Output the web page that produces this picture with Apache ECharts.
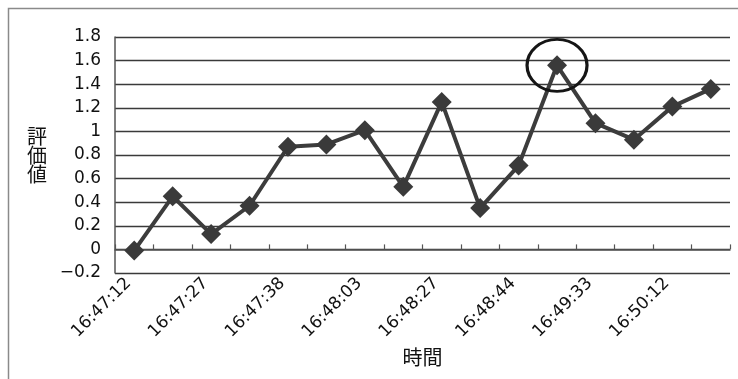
<!DOCTYPE html>
<html>
<head>
<meta charset="utf-8">
<script src="https://cdn.jsdelivr.net/npm/echarts@6/dist/echarts.min.js"></script>
<style>
  html, body { margin: 0; padding: 0; background: #fff; }
  #chart { width: 738px; height: 379px; }
</style>
</head>
<body>
<div id="chart"></div>
<script>
// Sample times along the x axis; only every other time is labelled.
const categories = [
  '16:47:12', '', '16:47:27', '', '16:47:38', '', '16:48:03', '',
  '16:48:27', '', '16:48:44', '', '16:49:33', '', '16:50:12', ''
];

// Evaluation value at each sample.
const values = [
  -0.01, 0.45, 0.13, 0.37, 0.87, 0.89, 1.01, 0.53,
  1.25, 0.35, 0.71, 1.56, 1.07, 0.93, 1.21, 1.36
];

// Y axis range and step.
const yMin = -0.2;
const yMax = 1.8;
const yStep = 0.2;

const yTitle = '評価値';
const xTitle = '時間';

const font = 'DejaVu Sans';
const cjkFont = 'Noto Sans CJK JP';

const chart = echarts.init(document.getElementById('chart'), null, { renderer: 'canvas' });

function fmtY(v) {
  const s = String(Number(v.toFixed(1)));
  return s.replace('-', '\u2212');
}

chart.setOption({
  animation: false,
  backgroundColor: '#ffffff',
  graphic: [{
    type: 'rect',
    left: 6, top: 6,
    shape: { width: 800, height: 420 },
    style: { fill: 'none', stroke: '#8a8a8a', lineWidth: 1.5 },
    silent: true
  }],
  grid: { left: 115, right: 8, top: 37, bottom: 106, containLabel: false },
  xAxis: [
    {
      // axis line through zero with inward ticks at category boundaries
      type: 'category',
      data: categories,
      position: 'bottom',
      boundaryGap: true,
      axisLine: { show: true, onZero: true, lineStyle: { color: '#555', width: 1.5 } },
      axisTick: { show: true, inside: true, length: 5, interval: 0, lineStyle: { color: '#555', width: 1.2 } },
      axisLabel: { show: false },
      splitLine: { show: false }
    },
    {
      // time labels along the bottom of the plot
      type: 'category',
      data: categories,
      position: 'bottom',
      boundaryGap: true,
      axisLine: { show: false, onZero: false },
      axisTick: { show: false },
      axisLabel: {
        show: true, interval: 0, rotate: 45, margin: 2,
        padding: [0, 8, 0, 0],
        fontFamily: font, fontSize: 17, color: '#111'
      },
      splitLine: { show: false },
      name: xTitle,
      nameLocation: 'middle',
      nameGap: 66,
      nameTextStyle: { fontFamily: cjkFont, fontSize: 20, color: '#111' }
    }
  ],
  yAxis: {
    type: 'value',
    min: yMin, max: yMax, interval: yStep,
    axisLine: { show: true, lineStyle: { color: '#555', width: 1.5 } },
    axisTick: { show: false },
    axisLabel: {
      margin: 14, fontFamily: font, fontSize: 17, color: '#111',
      formatter: fmtY
    },
    splitLine: { show: true, lineStyle: { color: '#3a3a3a', width: 1.4 } },
    name: yTitle.split('').join('\n'),
    nameLocation: 'middle',
    nameRotate: 0,
    nameGap: 68,
    nameTextStyle: {
      fontFamily: cjkFont, fontSize: 20, color: '#111',
      lineHeight: 19, padding: [10, 0, 0, 0]
    }
  },
  series: [{
    type: 'line',
    xAxisIndex: 0,
    data: values,
    symbol: 'diamond',
    symbolSize: 20,
    showAllSymbol: true,
    lineStyle: { color: '#3c3c3c', width: 4 },
    itemStyle: { color: '#3a3a3a' },
    markPoint: {
      symbol: 'circle',
      symbolSize: [60, 52],
      label: { show: false },
      itemStyle: { color: 'rgba(0,0,0,0)', borderColor: '#151515', borderWidth: 3 },
      data: [{ type: 'max' }]
    }
  }]
});
</script>
</body>
</html>
